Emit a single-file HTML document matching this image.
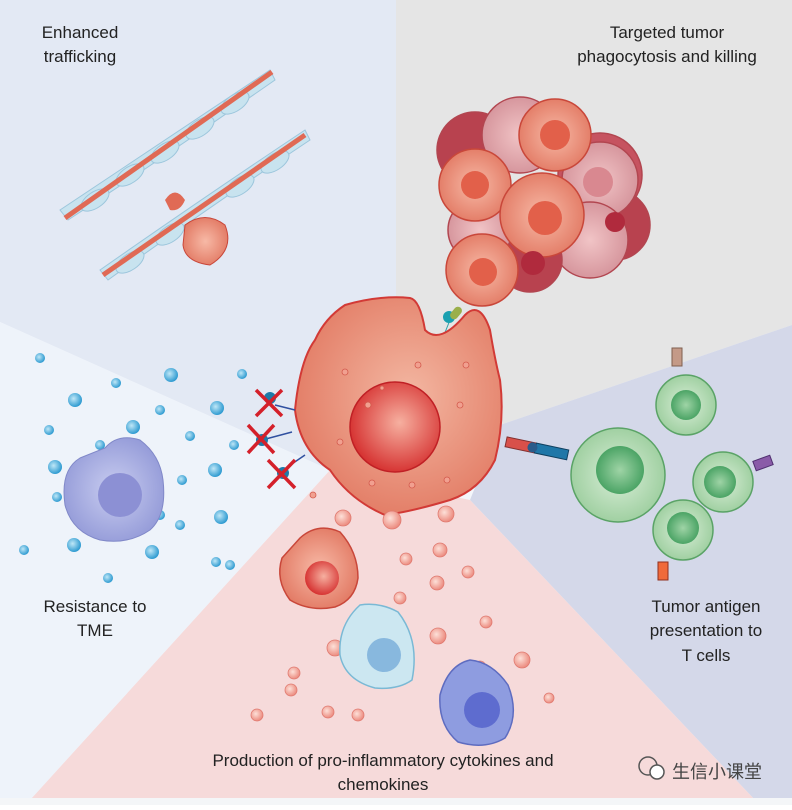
<!DOCTYPE html>
<html><head><meta charset="utf-8"><style>
body{margin:0;width:792px;height:805px;overflow:hidden;background:#fff}
text{font-family:"Liberation Sans","Noto Sans CJK SC",sans-serif;fill:#222}
</style></head><body>
<svg width="792" height="805" viewBox="0 0 792 805" xmlns="http://www.w3.org/2000/svg">
<defs>
<radialGradient id="mac" cx="0.55" cy="0.45" r="0.6"><stop offset="0" stop-color="#f3b7a2"/><stop offset="1" stop-color="#e27a63"/></radialGradient>
<radialGradient id="nuc" cx="0.55" cy="0.45" r="0.6"><stop offset="0" stop-color="#f6b0a0"/><stop offset="1" stop-color="#d42a2a"/></radialGradient>
<radialGradient id="grn" cx="0.5" cy="0.5" r="0.6"><stop offset="0" stop-color="#d9eed8"/><stop offset="1" stop-color="#95ca97"/></radialGradient>
<radialGradient id="gnu" cx="0.5" cy="0.5" r="0.6"><stop offset="0" stop-color="#9fd4a6"/><stop offset="1" stop-color="#3a9a58"/></radialGradient>
<radialGradient id="pur" cx="0.5" cy="0.5" r="0.6"><stop offset="0" stop-color="#c9cdf0"/><stop offset="1" stop-color="#8f96d6"/></radialGradient>
<radialGradient id="tum" cx="0.5" cy="0.5" r="0.6"><stop offset="0" stop-color="#f7b9a6"/><stop offset="1" stop-color="#e0735d"/></radialGradient>
<radialGradient id="tum2" cx="0.5" cy="0.5" r="0.6"><stop offset="0" stop-color="#f1c4c6"/><stop offset="1" stop-color="#d18d95"/></radialGradient>
<radialGradient id="bd" cx="0.4" cy="0.4" r="0.6"><stop offset="0" stop-color="#bfe7f7"/><stop offset="1" stop-color="#2f9bd1"/></radialGradient>
<radialGradient id="rd" cx="0.4" cy="0.4" r="0.6"><stop offset="0" stop-color="#fde0d8"/><stop offset="1" stop-color="#ec8c80"/></radialGradient>
</defs>
<rect width="792" height="805" fill="#f4f6fa"/>
<polygon points="0,0 396,0 396,300 330,470 0,322" fill="#e3e9f4"/>
<polygon points="396,0 792,0 792,325 500,425 396,300" fill="#e5e5e5"/>
<polygon points="792,325 792,800 755,800 470,500 500,425" fill="#d4d8e9"/>
<polygon points="330,470 470,500 755,800 30,800" fill="#f6dada"/>
<polygon points="0,322 330,470 30,800 0,800" fill="#eef3fa"/>
<rect y="798" width="792" height="7" fill="#f4f6f8"/>

<!-- vessels -->
<g fill="#c8e3ef" stroke="#9cc6dc">
<path d="M60,210 Q150,150 270,70 L275,80 Q160,160 68,220Z"/>
<ellipse cx="95" cy="200" rx="16" ry="8" transform="rotate(-34 95 200)"/>
<ellipse cx="130" cy="175" rx="16" ry="8" transform="rotate(-34 130 175)"/>
<ellipse cx="165" cy="152" rx="16" ry="8" transform="rotate(-34 165 152)"/>
<ellipse cx="200" cy="128" rx="16" ry="8" transform="rotate(-34 200 128)"/>
<ellipse cx="235" cy="103" rx="16" ry="8" transform="rotate(-34 235 103)"/>
<path d="M100,270 Q200,200 305,130 L310,140 Q205,210 108,280Z"/>
<ellipse cx="130" cy="262" rx="16" ry="8" transform="rotate(-34 130 262)"/>
<ellipse cx="170" cy="234" rx="16" ry="8" transform="rotate(-34 170 234)"/>
<ellipse cx="240" cy="186" rx="16" ry="8" transform="rotate(-34 240 186)"/>
<ellipse cx="275" cy="162" rx="16" ry="8" transform="rotate(-34 275 162)"/>
</g>
<line x1="65" y1="218" x2="272" y2="72" stroke="#e06a55" stroke-width="5"/>
<line x1="103" y1="275" x2="305" y2="135" stroke="#e06a55" stroke-width="5"/>
<path d="M185,225 Q205,210 225,225 Q235,250 210,265 Q185,262 183,245Z" fill="url(#tum)" stroke="#c9473a"/>
<path d="M165,200 Q175,185 185,200 Q180,212 170,210Z" fill="#e06a55"/>

<!-- tumor cluster -->
<g stroke="#b24650" stroke-width="1.5">
<circle cx="475" cy="150" r="38" fill="#b8424f"/>
<circle cx="600" cy="175" r="42" fill="#c65360"/>
<circle cx="615" cy="225" r="35" fill="#b8424f"/>
<circle cx="520" cy="135" r="38" fill="url(#tum2)"/>
<circle cx="600" cy="180" r="38" fill="url(#tum2)"/>
<circle cx="590" cy="240" r="38" fill="url(#tum2)"/>
<circle cx="530" cy="260" r="32" fill="#b8424f"/>
<circle cx="480" cy="230" r="32" fill="url(#tum2)"/>
<circle cx="555" cy="135" r="36" fill="url(#tum)" stroke="#c9473a"/>
<circle cx="475" cy="185" r="36" fill="url(#tum)" stroke="#c9473a"/>
<circle cx="542" cy="215" r="42" fill="url(#tum)" stroke="#c9473a"/>
<circle cx="482" cy="270" r="36" fill="url(#tum)" stroke="#c9473a"/>
<circle cx="555" cy="135" r="15" fill="#e2604a" stroke="none"/>
<circle cx="475" cy="185" r="14" fill="#e2604a" stroke="none"/>
<circle cx="545" cy="218" r="17" fill="#e2604a" stroke="none"/>
<circle cx="483" cy="272" r="14" fill="#e2604a" stroke="none"/>
<circle cx="598" cy="182" r="15" fill="#d98890" stroke="none"/>
<circle cx="615" cy="222" r="10" fill="#b02a3d" stroke="none"/>
<circle cx="533" cy="263" r="12" fill="#b02a3d" stroke="none"/>
</g>
<line x1="442" y1="340" x2="450" y2="320" stroke="#2aa0a8"/>
<circle cx="449" cy="317" r="6" fill="#1aa0b0"/>
<rect x="452" y="306" width="8" height="14" rx="4" fill="#9aaf4a" transform="rotate(40 456 313)"/>

<!-- macrophage -->
<path d="M345,305 Q380,295 410,298 Q420,300 425,330 Q440,345 465,315 Q480,300 490,330 Q495,360 500,380 Q505,420 495,460 Q480,490 450,500 Q410,512 385,515 Q350,500 330,470 Q300,450 295,410 Q300,360 315,340 Q325,318 345,305Z" fill="url(#mac)" stroke="#d23a36" stroke-width="2"/>
<ellipse cx="395" cy="427" rx="45" ry="45" fill="url(#nuc)" stroke="#c02025" stroke-width="1.5"/>
<g fill="#f1a090" stroke="#d35a4c" stroke-width="0.8">
<circle cx="345" cy="372" r="3"/><circle cx="368" cy="405" r="3"/><circle cx="418" cy="365" r="3"/><circle cx="460" cy="405" r="3"/><circle cx="447" cy="480" r="3"/><circle cx="412" cy="485" r="3"/><circle cx="313" cy="495" r="3"/><circle cx="340" cy="442" r="3"/><circle cx="382" cy="388" r="2"/><circle cx="466" cy="365" r="3"/><circle cx="372" cy="483" r="3"/>
</g>

<!-- blocked receptors -->
<g stroke="#3050a0" stroke-width="1.5"><line x1="275" y1="405" x2="295" y2="410"/><line x1="262" y1="440" x2="292" y2="432"/><line x1="283" y1="470" x2="305" y2="455"/></g>
<g fill="#1e7aa8"><circle cx="270" cy="398" r="6"/><circle cx="262" cy="440" r="6"/><circle cx="283" cy="473" r="6"/></g>
<g stroke="#d4202a" stroke-width="3.5">
<line x1="256" y1="390" x2="282" y2="416"/><line x1="282" y1="390" x2="256" y2="416"/>
<line x1="248" y1="425" x2="274" y2="453"/><line x1="274" y1="425" x2="248" y2="453"/>
<line x1="268" y1="460" x2="295" y2="488"/><line x1="295" y1="460" x2="268" y2="488"/>
</g>

<!-- MHC-TCR -->
<g transform="rotate(12 535 450)">
<rect x="505" y="443" width="30" height="10" fill="#d8504a" stroke="#803030"/>
<rect x="535" y="443" width="33" height="10" fill="#1f77a8" stroke="#104060"/>
<circle cx="532" cy="448" r="5" fill="#2a5b8a"/>
</g>

<!-- T cells -->
<g stroke="#5aa366" stroke-width="1.5">
<circle cx="618" cy="475" r="47" fill="url(#grn)"/><circle cx="620" cy="470" r="24" fill="url(#gnu)" stroke="none"/>
<circle cx="686" cy="405" r="30" fill="url(#grn)"/><circle cx="686" cy="405" r="15" fill="url(#gnu)" stroke="none"/>
<circle cx="723" cy="482" r="30" fill="url(#grn)"/><circle cx="720" cy="482" r="16" fill="url(#gnu)" stroke="none"/>
<circle cx="683" cy="530" r="30" fill="url(#grn)"/><circle cx="683" cy="528" r="16" fill="url(#gnu)" stroke="none"/>
</g>
<rect x="672" y="348" width="10" height="18" fill="#c49a88" stroke="#806050"/>
<rect x="754" y="458" width="18" height="10" fill="#8a5ba8" stroke="#503070" transform="rotate(-20 763 463)"/>
<rect x="658" y="562" width="10" height="18" fill="#f06a3a" stroke="#903020"/>

<!-- left dots & cell -->
<g fill="url(#bd)">
<circle cx="40" cy="358" r="5"/><circle cx="116" cy="383" r="5"/><circle cx="171" cy="375" r="7"/><circle cx="75" cy="400" r="7"/><circle cx="160" cy="410" r="5"/><circle cx="217" cy="408" r="7"/><circle cx="242" cy="374" r="5"/><circle cx="49" cy="430" r="5"/><circle cx="133" cy="427" r="7"/><circle cx="190" cy="436" r="5"/><circle cx="100" cy="445" r="5"/><circle cx="234" cy="445" r="5"/><circle cx="55" cy="467" r="7"/><circle cx="182" cy="480" r="5"/><circle cx="215" cy="470" r="7"/><circle cx="160" cy="515" r="5"/><circle cx="221" cy="517" r="7"/><circle cx="180" cy="525" r="5"/><circle cx="216" cy="562" r="5"/><circle cx="74" cy="545" r="7"/><circle cx="152" cy="552" r="7"/><circle cx="24" cy="550" r="5"/><circle cx="230" cy="565" r="5"/><circle cx="108" cy="578" r="5"/><circle cx="57" cy="497" r="5"/>
</g>
<path d="M105,448 Q118,433 140,440 Q160,455 163,480 Q167,515 150,530 Q128,545 100,540 Q72,532 65,505 Q60,470 80,458Z" fill="url(#pur)" stroke="#8088c8"/>
<circle cx="120" cy="495" r="22" fill="#8c90d4"/>

<!-- bottom cells & dots -->
<g fill="url(#rd)" stroke="#e07a70" stroke-width="0.8">
<circle cx="343" cy="518" r="8"/><circle cx="392" cy="520" r="9"/><circle cx="446" cy="514" r="8"/><circle cx="360" cy="670" r="6"/><circle cx="440" cy="550" r="7"/><circle cx="406" cy="559" r="6"/><circle cx="437" cy="583" r="7"/><circle cx="468" cy="572" r="6"/><circle cx="438" cy="636" r="8"/><circle cx="486" cy="622" r="6"/><circle cx="400" cy="598" r="6"/><circle cx="480" cy="667" r="6"/><circle cx="294" cy="673" r="6"/><circle cx="328" cy="712" r="6"/><circle cx="291" cy="690" r="6"/><circle cx="257" cy="715" r="6"/><circle cx="358" cy="715" r="6"/><circle cx="449" cy="685" r="5"/><circle cx="522" cy="660" r="8"/><circle cx="549" cy="698" r="5"/><circle cx="335" cy="648" r="8"/>
</g>
<path d="M300,538 Q318,522 340,532 Q358,552 358,578 Q355,600 335,607 Q310,612 290,600 Q275,580 282,558Z" fill="url(#tum)" stroke="#c9473a" stroke-width="1.5"/>
<circle cx="322" cy="578" r="17" fill="url(#nuc)"/>
<path d="M360,605 Q380,602 398,612 Q420,640 412,680 Q398,690 375,688 Q345,680 340,655 Q338,625 360,605Z" fill="#cce7f1" stroke="#7ab9d5" stroke-width="1.5"/>
<circle cx="384" cy="655" r="17" fill="#88b8de"/>
<path d="M470,660 Q492,662 508,685 Q520,715 505,738 Q485,750 458,742 Q438,725 440,695 Q448,665 470,660Z" fill="#8e9ce0" stroke="#5e6cc0" stroke-width="1.5"/>
<circle cx="482" cy="710" r="18" fill="#5e6ccf"/>

<!-- labels -->
<text x="80" y="38" font-size="17" text-anchor="middle">Enhanced</text>
<text x="80" y="62" font-size="17" text-anchor="middle">trafficking</text>
<text x="667" y="38" font-size="17" text-anchor="middle">Targeted tumor</text>
<text x="667" y="62" font-size="17" text-anchor="middle">phagocytosis and killing</text>
<text x="95" y="612" font-size="17" text-anchor="middle">Resistance to</text>
<text x="95" y="636" font-size="17" text-anchor="middle">TME</text>
<text x="706" y="612" font-size="17" text-anchor="middle">Tumor antigen</text>
<text x="706" y="636" font-size="17" text-anchor="middle">presentation to</text>
<text x="706" y="661" font-size="17" text-anchor="middle">T cells</text>
<text x="383" y="766" font-size="17" text-anchor="middle">Production of pro-inflammatory cytokines and</text>
<text x="383" y="790" font-size="17" text-anchor="middle">chemokines</text>
<circle cx="648" cy="766" r="9" fill="none" stroke="#555" stroke-width="1.5"/>
<circle cx="657" cy="772" r="7" fill="#fff" stroke="#555" stroke-width="1.5"/>
<text x="672" y="778" font-size="18" style="fill:#444">生信小课堂</text>
</svg>
</body></html>
